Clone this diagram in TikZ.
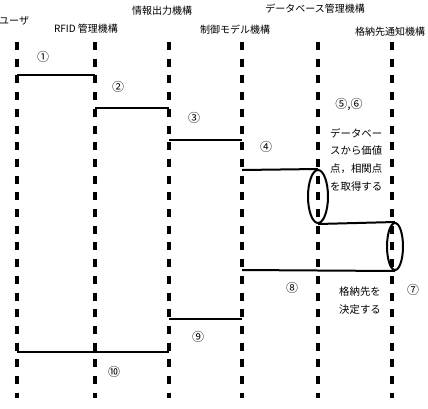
\documentclass[tikz,border=0pt]{standalone}
\usepackage{fontspec}
\setmainfont{Noto Sans CJK JP}
\usetikzlibrary{shapes.geometric}
\begin{document}
\begin{tikzpicture}[x=1pt,y=-1pt,
  lifeline/.style={line width=4.5pt, dash pattern=on 8pt off 8.7pt},
  msg/.style={line width=2pt},
  tube/.style={draw, ellipse, line width=2pt, inner sep=0pt},
  num/.style={font=\fontsize{12}{14}\selectfont, inner sep=0pt},
  lbl/.style={font=\fontsize{10.4}{12}\selectfont, inner sep=0pt, anchor=west},
  hdr/.style={font=\fontsize{10}{12}\selectfont, inner sep=0pt}]
\useasboundingbox (0,0) rectangle (428,408);
% lifelines
\foreach \n/\x in {1/17,2/95,3/169,4/242,5/318,6/392}{
  \coordinate (t\n) at (\x,42);
  \coordinate (b\n) at (\x,398);
  \draw[lifeline] (t\n) -- (b\n);
}
% headers
\node[hdr, anchor=west] (h1) at (-1,21) {ユーザ};
\node[hdr] (h2) at (86,29) {RFID 管理機構};
\node[hdr] (h3) at (162,11) {情報出力機構};
\node[hdr] (h4) at (235,30) {制御モデル機構};
\node[hdr] (h5) at (315,9) {データベース管理機構};
\node[hdr] (h6) at (390,32) {格納先通知機構};
% message points
\coordinate (m1a) at (17,75);  \coordinate (m1b) at (95,75);
\coordinate (m2a) at (95,108); \coordinate (m2b) at (169,108);
\coordinate (m3a) at (169,140);\coordinate (m3b) at (242,140);
\coordinate (m4a) at (242,170);
\coordinate (m9a) at (169,319);\coordinate (m9b) at (242,319);
\coordinate (m10a) at (17,352);\coordinate (m10b) at (169,352);
% tubes
\node[tube, minimum width=20pt, minimum height=53pt] (e1) at (318,196.5) {};
\node[tube, minimum width=16pt, minimum height=47pt] (e2) at (395,246.5) {};
\coordinate (m8b) at (242,270);
% messages
\draw[msg] (m1a) -- (m1b);
\draw[msg] (m2a) -- (m2b);
\draw[msg] (m3a) -- (m3b);
\draw[msg] (m4a) -- (e1.north);
\draw[msg] (e1.south) -- (e2.north);
\draw[msg] (e2.south) -- (m8b);
\draw[msg] (m9a) -- (m9b);
\draw[msg] (m10a) -- (m10b);
% labels
\node[num] (n1) at (43,57) {①};
\node[num] (n2) at (118,87) {②};
\node[num] (n3) at (194,118) {③};
\node[num] (n4) at (266,147) {④};
\node[num] (n56) at (349,105) {⑤,⑥};
\node[num] (n7) at (413,290) {⑦};
\node[num] (n8) at (292,288) {⑧};
\node[num] (n9) at (198,337) {⑨};
\node[num] (n10) at (114,372) {⑩};
\node[lbl] (txt1a) at (330,133) {データベー};
\node[lbl] (txt1b) at (330,151) {スから価値};
\node[lbl] (txt1c) at (330,169) {点，相関点};
\node[lbl] (txt1d) at (330,187) {を取得する};
\node[lbl] (txt2a) at (339,292) {格納先を};
\node[lbl] (txt2b) at (339,310) {決定する};
\end{tikzpicture}
\end{document}
